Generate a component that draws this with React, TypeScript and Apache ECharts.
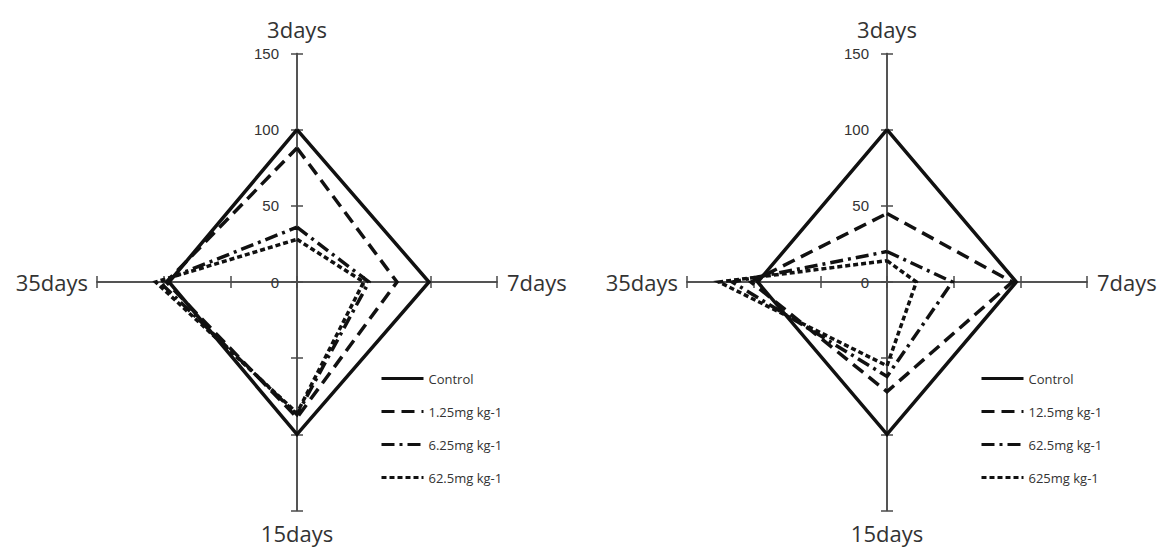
import React, { useEffect, useRef } from "react";
import * as echarts from "echarts";

// Spoke categories (clockwise from top)
const categories = ["3days", "7days", "15days", "35days"];
const tickLabels = ["0", "50", "100", "150"];

// Left chart series (values for 3days, 7days, 15days, 35days)
const leftNames = ["Control", "1.25mg kg-1", "6.25mg kg-1", "62.5mg kg-1"];
const leftControl = [100, 99, 100, 96];
const left125 = [88, 75, 89, 98];
const left625 = [36, 54, 87, 103];
const left62_5 = [28, 50, 86, 106];

// Right chart series
const rightNames = ["Control", "12.5mg kg-1", "62.5mg kg-1", "625mg kg-1"];
const rightControl = [100, 97, 100, 97];
const right12_5 = [45, 94, 72, 102];
const right62_5 = [20, 49, 62, 116];
const right625 = [14, 22, 55, 126];

const dashStyles: any[] = ["solid", [13, 7], [13, 5, 3, 5], [5, 3]];

const AXIS_COLOR = "#4a4a4a";
const LINE_COLOR = "#111";
const FONT = '"Open Sans", "Noto Sans", sans-serif';
const GRID_W = 400;
const GRID_H = 457;

function toPoints(vals: number[]) {
  // 3days up (+y), 7days right (+x), 15days down (-y), 35days left (-x)
  return [
    [0, vals[0]],
    [vals[1], 0],
    [0, -vals[2]],
    [-vals[3], 0],
    [0, vals[0]],
  ];
}

function axesFor(gridIndex: number, firstAxis: number) {
  const line = {
    show: true,
    onZero: true,
    onZeroAxisIndex: firstAxis,
    lineStyle: { color: AXIS_COLOR, width: 1.5 },
  };
  const tick = { show: true, length: 6, lineStyle: { color: AXIS_COLOR, width: 1.5 } };
  const nameStyle = { fontFamily: FONT, fontSize: 22, color: "#333" };
  const base = {
    type: "value",
    min: -150,
    max: 150,
    interval: 50,
    gridIndex,
    axisLine: line,
    axisTick: tick,
    splitLine: { show: false },
    nameMoveOverlap: false,
  };
  const xAxis = [
    {
      ...base,
      position: "bottom",
      name: categories[1],
      nameLocation: "end",
      nameGap: 10,
      nameTextStyle: { ...nameStyle, align: "left", verticalAlign: "middle" },
      axisLabel: { show: false },
    },
    {
      ...base,
      position: "top",
      name: categories[3],
      nameLocation: "start",
      nameGap: 9,
      nameTextStyle: { ...nameStyle, align: "right", verticalAlign: "middle" },
      axisLabel: { show: false },
    },
  ];
  const yAxis = [
    {
      ...base,
      position: "left",
      offset: -GRID_W / 2,
      axisLine: { ...line, onZero: false },
      name: categories[0],
      nameLocation: "end",
      nameGap: 14,
      nameTextStyle: { ...nameStyle, align: "center" },
      axisLabel: {
        show: true,
        margin: 18,
        fontFamily: '"Liberation Sans", Arial, sans-serif',
        fontSize: 15,
        color: "#333",
        formatter: (v: number) => (tickLabels.indexOf(String(v)) >= 0 ? String(v) : ""),
      },
    },
    {
      ...base,
      position: "right",
      name: categories[2],
      nameLocation: "start",
      nameGap: 11,
      nameTextStyle: { ...nameStyle, align: "center" },
      axisLabel: { show: false },
    },
  ];
  return { xAxis, yAxis };
}

function seriesFor(prefix: string, names: string[], data: number[][], axisIndex: number) {
  return data.map((vals, i) => ({
    type: "line",
    name: prefix + names[i],
    xAxisIndex: axisIndex,
    yAxisIndex: axisIndex,
    data: toPoints(vals),
    symbol: "none",
    silent: true,
    lineStyle: { color: LINE_COLOR, width: 3.5, type: dashStyles[i], cap: "butt", join: "miter" },
    itemStyle: { color: LINE_COLOR },
  }));
}

function legendFor(prefix: string, names: string[], left: number) {
  return {
    orient: "vertical",
    left,
    top: 372,
    padding: 0,
    itemWidth: 42,
    itemHeight: 14,
    itemGap: 20,
    selectedMode: false,
    data: names.map((n) => prefix + n),
    formatter: (n: string) => n.slice(prefix.length),
    textStyle: { fontFamily: FONT, fontSize: 13, color: "#333" },
    itemStyle: { opacity: 0 },
    lineStyle: { width: 3 },
  };
}

export default function App() {
  const ref = useRef<HTMLDivElement>(null);
  useEffect(() => {
    document.body.style.margin = "0";
    if (!ref.current) return;
    const chart = echarts.init(ref.current, undefined, { renderer: "svg" });
    const a1 = axesFor(0, 0);
    const a2 = axesFor(1, 2);
    chart.setOption({
      animation: false,
      backgroundColor: "#fff",
      grid: [
        { left: 97, top: 53.5, width: GRID_W, height: GRID_H, containLabel: false, outerBoundsMode: "none" },
        { left: 687, top: 53.5, width: GRID_W, height: GRID_H, containLabel: false, outerBoundsMode: "none" },
      ],
      xAxis: [...a1.xAxis, ...a2.xAxis],
      yAxis: [...a1.yAxis, ...a2.yAxis],
      legend: [legendFor("L:", leftNames, 380), legendFor("R:", rightNames, 980)],
      series: [
        ...seriesFor("L:", leftNames, [leftControl, left125, left625, left62_5], 0),
        ...seriesFor("R:", rightNames, [rightControl, right12_5, right62_5, right625], 2),
      ],
    });
    return () => chart.dispose();
  }, []);
  return <div ref={ref} style={{ width: 1167, height: 550 }} />;
}
